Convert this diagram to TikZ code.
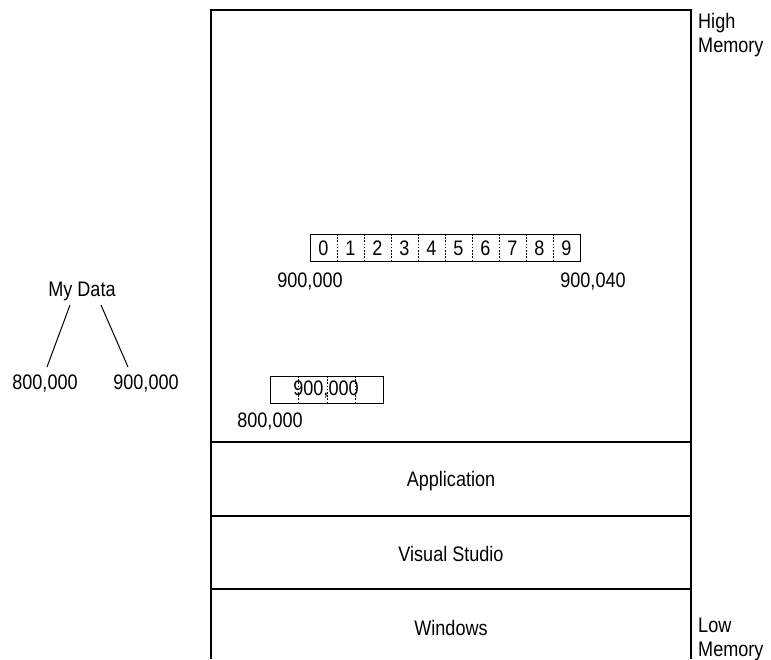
\documentclass[tikz,border=0pt]{standalone}
\usepackage{fontspec}
\setmainfont[FakeStretch=0.86]{Liberation Sans}
\begin{document}
\begin{tikzpicture}[x=1pt,y=-1pt,
  lbl/.style={inner sep=0pt,font=\fontsize{21}{24}\selectfont},
  memline/.style={line width=1.1pt},
  sep/.style={line width=0.6pt,dash pattern=on 1.6pt off 1.6pt}]
\useasboundingbox (0,0) rectangle (771,659);
% main memory column
\coordinate (tl) at (211,10);
\coordinate (tr) at (691,10);
\coordinate (bl) at (211,659);
\coordinate (br) at (691,659);
\draw[memline] (bl) -- (tl) -- (tr) -- (br);
\coordinate (a1) at (211,442); \coordinate (a2) at (691,442);
\coordinate (v1) at (211,516); \coordinate (v2) at (691,516);
\coordinate (w1) at (211,589); \coordinate (w2) at (691,589);
\draw[memline] (a1) -- (a2);
\draw[memline] (v1) -- (v2);
\draw[memline] (w1) -- (w2);
\node[lbl] (app) at (451,481) {Application};
\node[lbl] (vs) at (451,554) {Visual Studio};
\node[lbl] (win) at (451,628) {Windows};
\node[lbl,align=left,anchor=west] (high) at (698,35) {High\\Memory};
\node[lbl,align=left,anchor=west] (low) at (698,639) {Low\\Memory};
% array
\draw[line width=0.9pt] (310,234) rectangle (580,261);
\foreach \i in {0,...,9}{
  \node[lbl] (c\i) at ({310+27*\i+13.5},248) {\i};
}
\foreach \i in {1,...,9}{
  \draw[sep] ({310+27*\i},234) -- ({310+27*\i},261);
}
\node[lbl] (s1) at (310,282) {900,000};
\node[lbl] (s2) at (593,282) {900,040};
% pointer box
\draw[line width=0.9pt] (270,376) rectangle (383,403);
\foreach \x in {298,327,355}{
  \draw[sep] (\x,376) -- (\x,403);
}
\node[lbl] (ptr) at (326,390) {900,000};
\node[lbl] (p800) at (270,422) {800,000};
% My Data tree
\node[lbl] (md) at (82,291) {My Data};
\node[lbl] (l800) at (45,384) {800,000};
\node[lbl] (l900) at (146,384) {900,000};
\coordinate (m1) at (70,305); \coordinate (e1) at (47,367);
\coordinate (m2) at (101,305); \coordinate (e2) at (128,367);
\draw[line width=1pt] (m1) -- (e1);
\draw[line width=1pt] (m2) -- (e2);
\end{tikzpicture}
\end{document}
